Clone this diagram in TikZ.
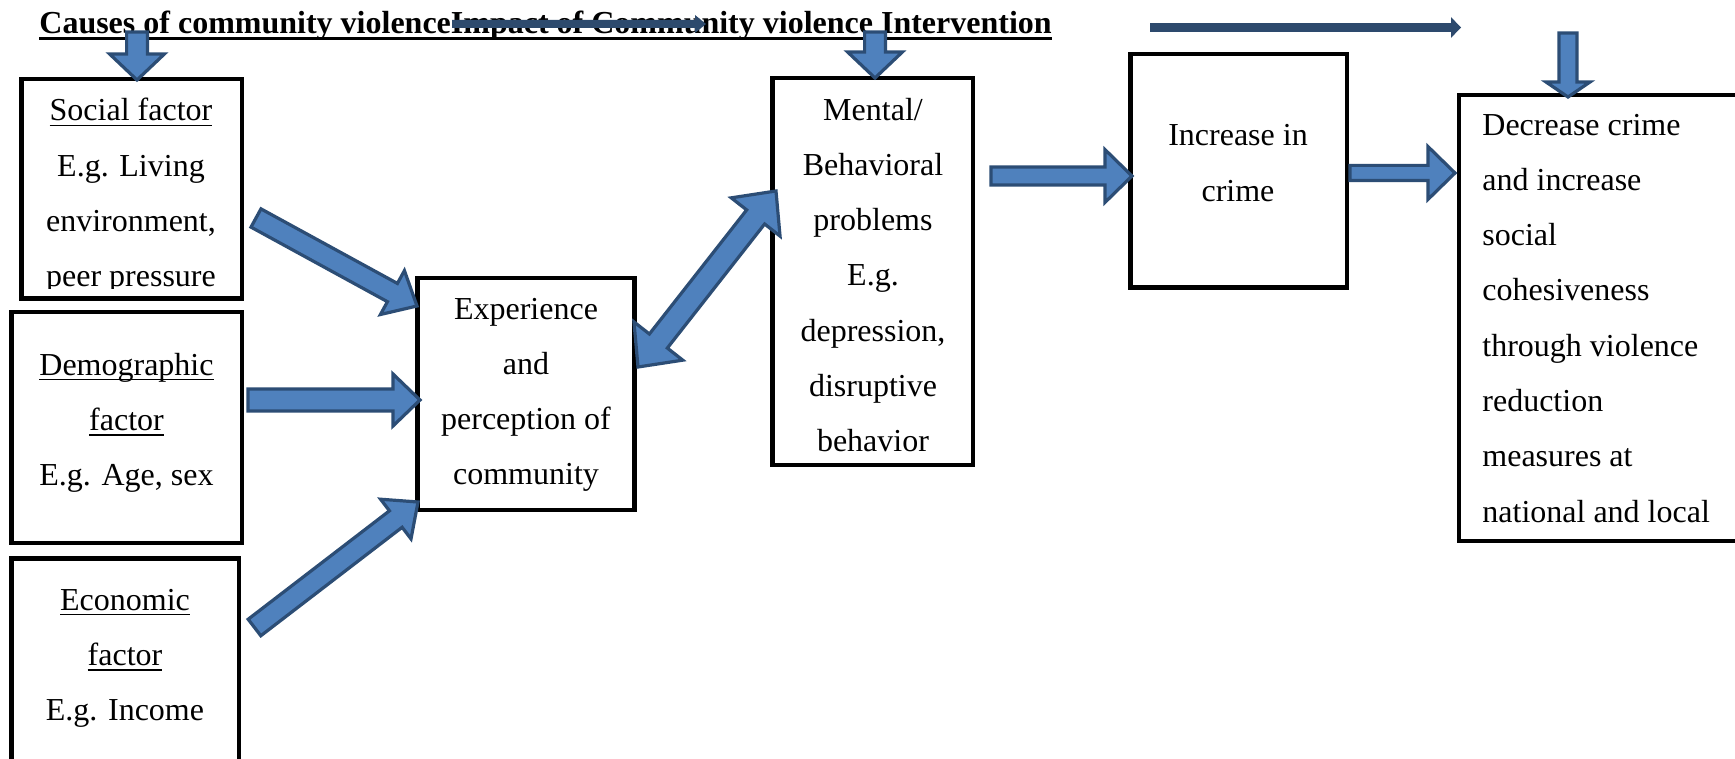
\documentclass[tikz,border=0pt]{standalone}
\usepackage{fontspec}
\setmainfont{Liberation Serif}
\usetikzlibrary{calc,fit}
\definecolor{afill}{HTML}{4F81BD}
\definecolor{aline}{HTML}{2C4D75}
\definecolor{navy}{HTML}{2D4A6D}
\newcommand\myul[1]{\setbox0\hbox{#1}\rlap{\rule[-2.6pt]{\wd0}{0.85pt}}\box0}
\newcommand\myulb[1]{\setbox0\hbox{#1}\rlap{\rule[-3pt]{\wd0}{1.5pt}}\box0}
% block arrow: tail, tip, shaft half width, head half width, head length
\newcommand\blockarrow[6][barrow]{%
  \coordinate (hb) at ($(#3)!#6!(#2)$);
  \draw[#1] ($(#2)!#4!90:(#3)$) -- ($(hb)!#4!90:(#3)$) -- ($(hb)!#5!90:(#3)$) -- (#3)
    -- ($(hb)!#5!-90:(#3)$) -- ($(hb)!#4!-90:(#3)$) -- ($(#2)!#4!-90:(#3)$) -- cycle;
}
% double block arrow: end1, end2, shaft half width, head half width, head length
\newcommand\dblarrow[5]{%
  \coordinate (ha) at ($(#1)!#5!(#2)$);
  \coordinate (hb) at ($(#2)!#5!(#1)$);
  \draw[barrow] (#1) -- ($(ha)!#4!90:(#2)$) -- ($(ha)!#3!90:(#2)$) -- ($(hb)!#3!90:(#2)$)
    -- ($(hb)!#4!90:(#2)$) -- (#2) -- ($(hb)!#4!-90:(#2)$) -- ($(hb)!#3!-90:(#2)$)
    -- ($(ha)!#3!-90:(#2)$) -- ($(ha)!#4!-90:(#2)$) -- cycle;
}
\tikzset{
  box/.style={draw=black, line width=2.25pt, inner sep=0pt, fill=white},
  txt/.style={inner sep=0pt, font=\fontsize{16pt}{27.65pt}\selectfont},
  barrow/.style={fill=afill, draw=aline, line width=1.6pt, line join=miter},
  narrow/.style={fill=navy, draw=none},
}
\begin{document}
\begin{tikzpicture}[x=0.5pt,y=-0.5pt]
\useasboundingbox (0,0) rectangle (1735,759);
\fill[white] (0,0) rectangle (1735,759);
\clip (0,0) rectangle (1735,759);

% boxes
\node[box, fit={(21.25,79.25) (241.75,298.75)}] (social) {};
\node[box, fit={(11.25,312.25) (241.75,542.75)}] (demo) {};
\node[box, fit={(11.25,558.25) (238.75,800)}] (econ) {};
\node[box, fit={(417.25,278) (634.5,509.75)}] (exper) {};
\node[box, fit={(772.25,78.25) (972.75,464.75)}] (mental) {};
\node[box, fit={(1130.25,54.25) (1346.75,287.75)}] (incr) {};
\node[box, fit={(1459,95) (1760,540.75)}] (decr) {};

% texts (anchor base = baseline of the last line)
\begin{scope}
\clip (21,79) rectangle (242,289);
\node[txt, align=center, anchor=base] (socialtxt) at (131,286.9)
  {\myul{Social factor}\\E.g. Living\\environment,\\peer pressure};
\end{scope}
\node[txt, align=center, anchor=base] (demotxt) at (126.5,485.6)
  {\myul{Demographic}\\\myul{factor}\\E.g. Age, sex};
\node[txt, align=center, anchor=base] (econtxt) at (125,720.6)
  {\myul{Economic}\\\myul{factor}\\E.g. Income};
\node[txt, align=center, anchor=base] (expertxt) at (526,484.9)
  {Experience\\and\\perception of\\community};
\node[txt, align=center, anchor=base] (mentaltxt) at (873,451.8)
  {Mental/\\Behavioral\\problems\\E.g.\\depression,\\disruptive\\behavior};
\node[txt, align=center, anchor=base] (incrtxt) at (1238,201.3)
  {Increase in\\crime};
\node[txt, align=left, anchor=base west] (decrtxt) at (1482,522.1)
  {Decrease crime\\and increase\\social\\cohesiveness\\through violence\\reduction\\measures at\\national and local};

% title
\node[inner sep=0pt, anchor=base west, font=\bfseries\fontsize{16pt}{20pt}\selectfont] (title) at (39,34)
  {\myulb{Causes of community violenceImpact of Community violence Intervention}};

% coordinates for arrow ends
\coordinate (n1a) at (452,24);   \coordinate (n1b) at (706,24);
\coordinate (n2a) at (1150,27.5); \coordinate (n2b) at (1461,27.5);
\coordinate (dAa) at (137,32);   \coordinate (dAb) at (137,80);
\coordinate (dBa) at (875,32);   \coordinate (dBb) at (875,78);
\coordinate (dCa) at (1568,33);  \coordinate (dCb) at (1568,97);
\coordinate (socT) at (256,218); \coordinate (socH) at (417,306);
\coordinate (demT) at (248,400); \coordinate (demH) at (420,400);
\coordinate (ecoT) at (254.5,627.5); \coordinate (ecoH) at (418,502);
\coordinate (dbA) at (638,367);  \coordinate (dbB) at (776,191);
\coordinate (menT) at (991,176); \coordinate (menH) at (1132,176);
\coordinate (incT) at (1350,173); \coordinate (incH) at (1455,173);

% navy thin arrows
\blockarrow[narrow]{n1a}{n1b}{2pt}{4.5pt}{5.5pt}
\blockarrow[narrow]{n2a}{n2b}{2.2pt}{5.2pt}{5pt}

% down arrows
\blockarrow{dAa}{dAb}{5.2pt}{13.7pt}{13pt}
\blockarrow{dBa}{dBb}{5.2pt}{13.7pt}{13pt}
\blockarrow{dCa}{dCb}{4.5pt}{11pt}{7.5pt}

% arrows into experience
\blockarrow{socT}{socH}{5.2pt}{12.5pt}{14pt}
\blockarrow{demT}{demH}{5.5pt}{13pt}{13.5pt}
\blockarrow{ecoT}{ecoH}{5.2pt}{12.5pt}{14pt}

% double arrow
\dblarrow{dbA}{dbB}{5.7pt}{15.5pt}{16.5pt}

% right arrows
\blockarrow{menT}{menH}{4.5pt}{13.2pt}{13.5pt}
\blockarrow{incT}{incH}{3.8pt}{13.2pt}{13.5pt}
\end{tikzpicture}
\end{document}
